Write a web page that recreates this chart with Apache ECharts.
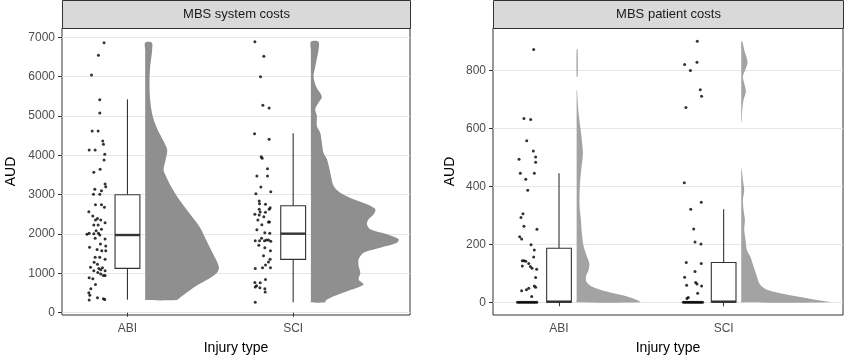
<!DOCTYPE html>
<html>
<head>
<meta charset="utf-8">
<script src="https://cdn.jsdelivr.net/npm/echarts@6/dist/echarts.min.js"></script>
<style>
  html, body { margin: 0; padding: 0; background: #fff; }
  #chart { width: 844px; height: 360px; }
</style>
</head>
<body>
<div id="chart"></div>
<script>
var categories = ['ABI', 'SCI'];
var panelTitles = ['MBS system costs', 'MBS patient costs'];
var sysTicks = [0, 1000, 2000, 3000, 4000, 5000, 6000, 7000];
var patTicks = [0, 200, 400, 600, 800];

// jittered points: [offset from category, AUD]
var sysAbiPoints = [
  [-0.141, 6865], [-0.175, 6543], [-0.217, 6043], [-0.167, 5416], [-0.167, 5076],
  [-0.213, 4619], [-0.177, 4619], [-0.231, 4136], [-0.195, 4136], [-0.149, 4365],
  [-0.145, 4280], [-0.137, 4026], [-0.141, 3882], [-0.165, 3644], [-0.203, 3568],
  [-0.135, 3271], [-0.131, 3204], [-0.157, 3102], [-0.197, 3136], [-0.205, 3009],
  [-0.167, 3009], [-0.193, 2746], [-0.157, 2746], [-0.139, 2678], [-0.233, 2568],
  [-0.209, 2458], [-0.181, 2398], [-0.193, 2356], [-0.161, 2356], [-0.135, 2288],
  [-0.203, 2229], [-0.177, 2229], [-0.157, 2119], [-0.189, 2085], [-0.244, 1992],
  [-0.231, 2017], [-0.203, 2009], [-0.175, 2017], [-0.167, 1975], [-0.195, 1890],
  [-0.135, 1873], [-0.163, 1746], [-0.229, 1661], [-0.131, 1695], [-0.183, 1610],
  [-0.155, 1576], [-0.131, 1576], [-0.195, 1407], [-0.167, 1407], [-0.135, 1356],
  [-0.201, 1280], [-0.181, 1229], [-0.223, 1153], [-0.203, 1068], [-0.173, 1127],
  [-0.151, 1144], [-0.135, 1068], [-0.179, 1025], [-0.161, 983], [-0.145, 949],
  [-0.135, 949], [-0.231, 890], [-0.209, 864], [-0.193, 720], [-0.221, 610],
  [-0.233, 508], [-0.227, 441], [-0.181, 381], [-0.231, 322], [-0.145, 356],
  [-0.137, 339], [-0.161, 1093]
];
var sysSciPoints = [
  [-0.231, 6890], [-0.177, 6517], [-0.197, 6000], [-0.183, 5271], [-0.145, 5204],
  [-0.233, 4551], [-0.145, 4407], [-0.193, 3966], [-0.187, 3924], [-0.155, 3661],
  [-0.219, 3475], [-0.155, 3475], [-0.195, 3195], [-0.135, 3076], [-0.225, 3026],
  [-0.205, 2839], [-0.203, 2771], [-0.167, 2754], [-0.139, 2670], [-0.145, 2627],
  [-0.205, 2627], [-0.199, 2560], [-0.167, 2551], [-0.231, 2500], [-0.205, 2483],
  [-0.177, 2441], [-0.213, 2356], [-0.149, 2305], [-0.143, 2305], [-0.189, 2237],
  [-0.219, 2110], [-0.171, 2034], [-0.141, 2017], [-0.191, 1890], [-0.229, 1831],
  [-0.203, 1831], [-0.173, 1831], [-0.161, 1848], [-0.149, 1848], [-0.135, 1814],
  [-0.207, 1712], [-0.171, 1653], [-0.137, 1576], [-0.179, 1449], [-0.139, 1356],
  [-0.149, 1288], [-0.167, 1212], [-0.137, 1144], [-0.229, 1127], [-0.185, 1144],
  [-0.167, 847], [-0.231, 771], [-0.199, 763], [-0.221, 686], [-0.201, 636],
  [-0.171, 610], [-0.169, 525], [-0.229, 263], [-0.229, 653]
];
var patAbiPoints = [
  [-0.154, 872], [-0.213, 634], [-0.172, 630], [-0.196, 557], [-0.156, 522],
  [-0.142, 501], [-0.142, 483], [-0.243, 493], [-0.235, 445], [-0.150, 445],
  [-0.202, 424], [-0.190, 386], [-0.219, 305], [-0.231, 292], [-0.213, 262],
  [-0.134, 252], [-0.239, 226], [-0.227, 218], [-0.170, 198], [-0.150, 180],
  [-0.154, 156], [-0.223, 143], [-0.213, 143], [-0.202, 141], [-0.184, 134],
  [-0.223, 125], [-0.174, 123], [-0.164, 117], [-0.136, 114], [-0.142, 85],
  [-0.150, 56], [-0.184, 48], [-0.198, 43], [-0.142, 52], [-0.227, 40],
  [-0.166, 20],
  [-0.252, 0], [-0.243, 0], [-0.234, 0], [-0.225, 0], [-0.216, 0], [-0.207, 0],
  [-0.198, 0], [-0.189, 0], [-0.180, 0], [-0.171, 0], [-0.162, 0], [-0.153, 0],
  [-0.144, 0], [-0.135, 0]
];
var patSciPoints = [
  [-0.160, 900], [-0.237, 820], [-0.162, 828], [-0.202, 799], [-0.142, 733],
  [-0.134, 711], [-0.229, 672], [-0.239, 412], [-0.136, 345], [-0.200, 321],
  [-0.182, 253], [-0.174, 208], [-0.138, 201], [-0.227, 137], [-0.136, 134],
  [-0.174, 106], [-0.237, 86], [-0.170, 68], [-0.162, 63], [-0.134, 56],
  [-0.225, 59], [-0.158, 31], [-0.223, 13], [-0.215, 16],
  [-0.245, 0], [-0.236, 0], [-0.227, 0], [-0.218, 0], [-0.209, 0], [-0.200, 0],
  [-0.191, 0], [-0.182, 0], [-0.173, 0], [-0.164, 0], [-0.155, 0], [-0.146, 0],
  [-0.137, 0], [-0.128, 0]
];

// box stats per category: [low, q1, median, q3, high]
var sysBoxes = [[331, 1127, 1975, 3000, 5424], [263, 1356, 2009, 2720, 4560]];
var patBoxes = [[0, 0, 2, 186, 445], [0, 0, 2, 137, 321]];

// half-violin profiles: segments of [AUD, width]
var sysAbiViolin = [[
  [6865, 0.040], [6678, 0.042], [6255, 0.030], [5831, 0.026], [5407, 0.030],
  [4983, 0.046], [4644, 0.076], [4390, 0.107], [4136, 0.133], [3882, 0.123],
  [3627, 0.111], [3458, 0.127], [3204, 0.157], [2864, 0.207], [2525, 0.268],
  [2186, 0.328], [1848, 0.368], [1509, 0.408], [1254, 0.438], [1127, 0.445],
  [1000, 0.429], [831, 0.370], [661, 0.300], [492, 0.245], [364, 0.205], [322, 0.187]
]];
var sysSciViolin = [[
  [6890, 0.046], [6678, 0.046], [6255, 0.026], [5999, 0.016], [5746, 0.032],
  [5492, 0.066], [5339, 0.046], [5170, 0.026], [5000, 0.036], [4746, 0.036],
  [4576, 0.056], [4322, 0.066], [4068, 0.076], [3898, 0.097], [3559, 0.117],
  [3220, 0.137], [3051, 0.177], [2881, 0.258], [2754, 0.338], [2627, 0.389],
  [2500, 0.379], [2373, 0.348], [2246, 0.338], [2119, 0.358], [1992, 0.459],
  [1865, 0.530], [1780, 0.519], [1653, 0.419], [1525, 0.318], [1356, 0.288],
  [1186, 0.288], [1017, 0.298], [847, 0.288], [720, 0.318], [576, 0.238],
  [449, 0.158], [322, 0.092], [263, 0.086]
]];
var patAbiViolin = [
  [[872, 0.006], [778, 0.006]],
  [
    [732, 0.002], [697, 0.006], [651, 0.012], [605, 0.022], [559, 0.032],
    [514, 0.038], [468, 0.030], [422, 0.022], [376, 0.018], [330, 0.018],
    [284, 0.026], [238, 0.032], [192, 0.043], [157, 0.063], [134, 0.077],
    [111, 0.073], [89, 0.057], [71, 0.059], [54, 0.093], [43, 0.143],
    [31, 0.224], [20, 0.306], [8, 0.366], [0, 0.387]
  ]
];
var patSciViolin = [
  [
    [900, 0.006], [870, 0.018], [828, 0.038], [801, 0.024], [778, 0.010],
    [755, 0.018], [727, 0.028], [698, 0.014], [664, 0.006], [620, 0.002]
  ],
  [
    [462, 0.002], [421, 0.010], [387, 0.018], [353, 0.010], [318, 0.014],
    [284, 0.022], [249, 0.018], [215, 0.026], [180, 0.034], [157, 0.055],
    [123, 0.075], [89, 0.095], [60, 0.115], [43, 0.156], [31, 0.237],
    [20, 0.340], [8, 0.461], [0, 0.542]
  ]
];

var VIOLIN_OFF = 0.107;
var BOX_W = 0.15;
var INK = '#333333';

var chartDom = document.getElementById('chart');
var myChart = echarts.init(chartDom);

function violinSeries(idx, cat, segments, color) {
  return {
    type: 'custom',
    xAxisIndex: idx,
    yAxisIndex: idx,
    silent: true,
    z: 1,
    data: segments.map(function (s, i) { return [cat, i]; }),
    renderItem: function (params, api) {
      var seg = segments[params.dataIndex];
      var x0 = cat + VIOLIN_OFF;
      // outer density edge top -> bottom, then the straight inner edge back up
      var outer = seg.map(function (p) { return api.coord([x0 + p[1], p[0]]); });
      var inner = seg.slice().reverse().map(function (p) { return api.coord([x0, p[0]]); });
      return {
        type: 'polygon',
        shape: { points: outer.concat(inner), smooth: 0.3 },
        style: { fill: color }
      };
    }
  };
}

function boxSeries(idx, boxes) {
  return {
    type: 'custom',
    xAxisIndex: idx,
    yAxisIndex: idx,
    silent: true,
    z: 3,
    data: boxes.map(function (b, i) { return [i + 1].concat(b); }),
    renderItem: function (params, api) {
      var x = api.value(0);
      var lo = api.coord([x, api.value(1)]);
      var q1 = api.coord([x, api.value(2)]);
      var md = api.coord([x, api.value(3)]);
      var q3 = api.coord([x, api.value(4)]);
      var hi = api.coord([x, api.value(5)]);
      var l = api.coord([x - BOX_W / 2, 0])[0];
      var r = api.coord([x + BOX_W / 2, 0])[0];
      var line = { stroke: INK, lineWidth: 1.1 };
      return {
        type: 'group',
        children: [
          { type: 'line', shape: { x1: lo[0], y1: lo[1], x2: q1[0], y2: q1[1] }, style: line },
          { type: 'line', shape: { x1: q3[0], y1: q3[1], x2: hi[0], y2: hi[1] }, style: line },
          { type: 'rect', shape: { x: l, y: q3[1], width: r - l, height: q1[1] - q3[1] },
            style: { fill: '#fff', stroke: INK, lineWidth: 1.1 } },
          { type: 'line', shape: { x1: l, y1: md[1], x2: r, y2: md[1] },
            style: { stroke: INK, lineWidth: 2.4 } }
        ]
      };
    }
  };
}

function pointSeries(idx, cat, pts) {
  return {
    type: 'scatter',
    xAxisIndex: idx,
    yAxisIndex: idx,
    silent: true,
    z: 2,
    symbolSize: 3,
    itemStyle: { color: '#000' },
    data: pts.map(function (p) { return [cat + p[0], p[1]]; })
  };
}

var grids = [
  { left: 62, top: 28, width: 348, height: 287 },
  { left: 493, top: 28, width: 350, height: 287 }
];

function xAxisFor(idx, min, max) {
  return {
    type: 'value', gridIndex: idx, min: min, max: max,
    name: 'Injury type', nameLocation: 'middle', nameGap: 26,
    nameTextStyle: { color: '#000', fontSize: 14, fontFamily: 'Liberation Sans' },
    axisLine: { show: false },
    splitLine: { show: false },
    axisTick: { show: true, customValues: [1, 2], length: 4, lineStyle: { color: INK } },
    axisLabel: {
      customValues: [1, 2], margin: 8, color: '#4d4d4d', fontSize: 12,
      fontFamily: 'Liberation Sans',
      formatter: function (v) { return categories[Math.round(v) - 1]; }
    }
  };
}

function yAxisFor(idx, min, max, ticks, gap) {
  return {
    type: 'value', gridIndex: idx, min: min, max: max,
    name: 'AUD', nameLocation: 'middle', nameGap: gap, nameRotate: 90,
    nameTextStyle: { color: '#000', fontSize: 14, fontFamily: 'Liberation Sans' },
    axisLine: { show: false },
    axisTick: { show: true, customValues: ticks, length: 4, lineStyle: { color: INK } },
    axisLabel: {
      customValues: ticks, margin: 7, color: '#4d4d4d', fontSize: 12,
      fontFamily: 'Liberation Sans',
      formatter: function (v) { return String(Math.round(v)); }
    },
    splitLine: { show: true, lineStyle: { color: '#e6e6e6', width: 1 } }
  };
}

function strip(idx) {
  var g = grids[idx];
  return {
    type: 'group',
    left: g.left,
    top: 0,
    children: [
      { type: 'rect', shape: { x: 0, y: 0, width: g.width, height: 28 },
        style: { fill: '#d9d9d9', stroke: INK, lineWidth: 1 } },
      { type: 'text', x: g.width / 2, y: 14,
        style: { text: panelTitles[idx], fill: '#1a1a1a', fontSize: 13,
          fontFamily: 'Liberation Sans', align: 'center', verticalAlign: 'middle' } }
    ]
  };
}

var option = {
  backgroundColor: '#fff',
  animation: false,
  grid: grids.map(function (g) {
    return Object.assign({ show: true, backgroundColor: '#fff', borderColor: INK, borderWidth: 1 }, g);
  }),
  xAxis: [xAxisFor(0, 0.605, 2.705), xAxisFor(1, 0.599, 2.725)],
  yAxis: [yAxisFor(0, -58, 7237, sysTicks, 44), yAxisFor(1, -44, 946, patTicks, 36)],
  graphic: [strip(0), strip(1)],
  series: [
    violinSeries(0, 1, sysAbiViolin, '#8f8f8f'),
    violinSeries(0, 2, sysSciViolin, '#8f8f8f'),
    boxSeries(0, sysBoxes),
    pointSeries(0, 1, sysAbiPoints),
    pointSeries(0, 2, sysSciPoints),
    violinSeries(1, 1, patAbiViolin, '#a3a3a3'),
    violinSeries(1, 2, patSciViolin, '#a3a3a3'),
    boxSeries(1, patBoxes),
    pointSeries(1, 1, patAbiPoints),
    pointSeries(1, 2, patSciPoints)
  ]
};

option && myChart.setOption(option);
new ResizeObserver(() => myChart.resize()).observe(chartDom);
</script>
</body>
</html>
